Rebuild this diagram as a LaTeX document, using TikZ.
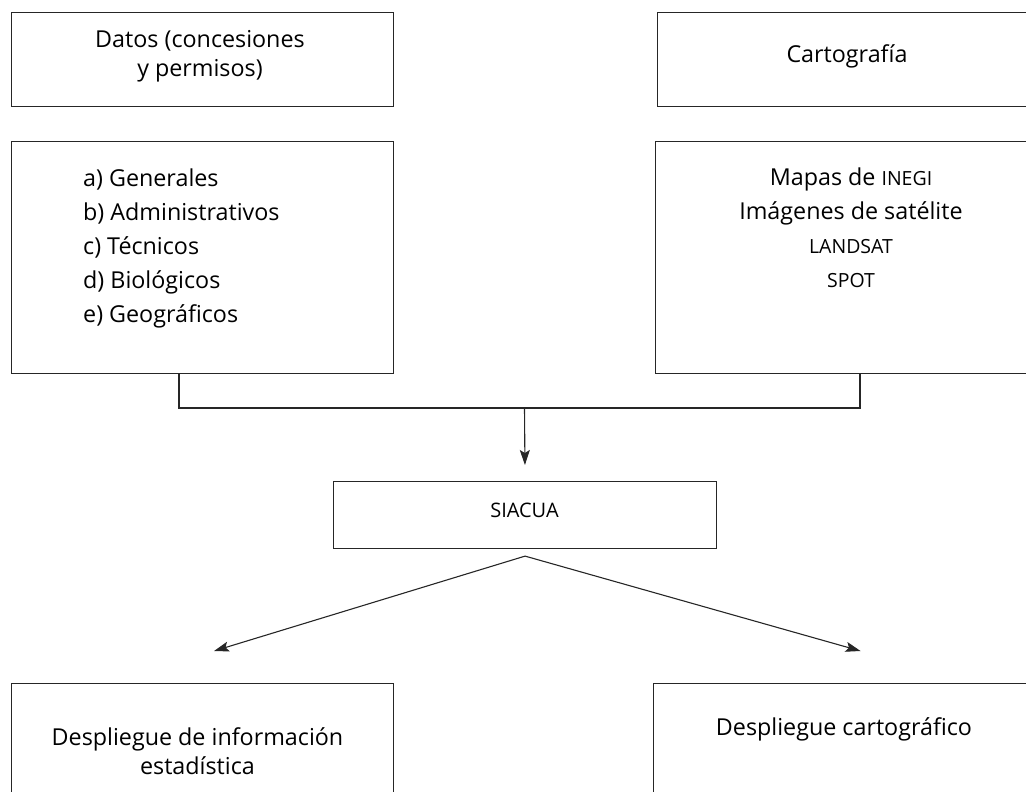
\documentclass[tikz,border=0pt]{standalone}
\usepackage{fontspec}
\setmainfont{Open Sans}
\usetikzlibrary{arrows.meta,calc}
\begin{document}
\begin{tikzpicture}[
                x=1pt,y=-1pt,
                siacuaBox/.style={draw=black!85,line width=1.1pt,inner sep=0pt},
                siacuaText/.style={inner sep=0pt,align=center,
                                   font=\fontsize{23.3}{29}\selectfont},
                siacuaList/.style={siacuaText,font=\fontsize{23.3}{34}\selectfont},
                siacuaLink/.style={draw=black!85,line width=1.1pt},
                siacuaArrow/.style={siacuaLink,-{Stealth[length=15pt,width=10pt,inset=3pt]}}]
                \newcommand\siacuaCaps[1]{{\fontsize{19.5}{19.5}\selectfont #1}}
                \useasboundingbox (0,0) rectangle (1026,792);
                % boxes
                \node[siacuaBox,minimum width=382,minimum height=94,anchor=north west] (datos) at (11,12) {};
                \node[siacuaBox,minimum width=390,minimum height=94,anchor=north west] (carto) at (657,12) {};
                \node[siacuaBox,minimum width=382,minimum height=232,anchor=north west] (gen) at (11,141) {};
                \node[siacuaBox,minimum width=392,minimum height=232,anchor=north west] (mapas) at (655,141) {};
                \node[siacuaBox,minimum width=383,minimum height=67,anchor=north west] (siacua) at (333,481) {};
                \node[siacuaBox,minimum width=382,minimum height=150,anchor=north west] (est) at (11,683) {};
                \node[siacuaBox,minimum width=394,minimum height=150,anchor=north west] (despcarto) at (653,683) {};
                % texts
                \node[siacuaText] (datostxt) at (200,56.5) {Datos (concesiones\\y permisos)};
                \node[siacuaText] (cartotxt) at (847,56.5) {Cartograf\'{\i}a};
                \node[siacuaList,align=left,anchor=west] (genlist) at (83,248)
                    {a) Generales\\b) Administrativos\\c) T\'ecnicos\\d) Biol\'ogicos\\e) Geogr\'aficos};
                \node[siacuaList] (mapaslist) at (851,228)
                    {Mapas de \siacuaCaps{INEGI}\\Im\'agenes de sat\'elite\\
                     \siacuaCaps{LANDSAT}\\\siacuaCaps{SPOT}};
                \node[siacuaText,font=\fontsize{20}{20}\selectfont] (siacuatxt) at (524.5,510) {SIACUA};
                \node[siacuaText] (esttxt) at (197.5,751.5) {Despliegue de informaci\'on\\estad\'{\i}stica};
                \node[siacuaText] (desptxt) at (844,729) {Despliegue cartogr\'afico};
                % join of the two source boxes
                \coordinate (join) at (524.5,408);
                \draw[siacuaLink] ($(gen.south west)+(168,0)$) |- (join)
                    -| ($(mapas.south west)+(205,0)$);
                \draw[siacuaArrow,shorten >=16pt] (join) -- (siacua.north);
                % outputs
                \coordinate (siacuaout) at ($(siacua.south)+(0,7)$);
                \coordinate (estin) at ($(est.north)+(11.5,-32)$);
                \coordinate (despin) at ($(despcarto.north)+(10,-32)$);
                \draw[siacuaArrow] (siacuaout) -- (estin);
                \draw[siacuaArrow] (siacuaout) -- (despin);
            \end{tikzpicture}
\end{document}
